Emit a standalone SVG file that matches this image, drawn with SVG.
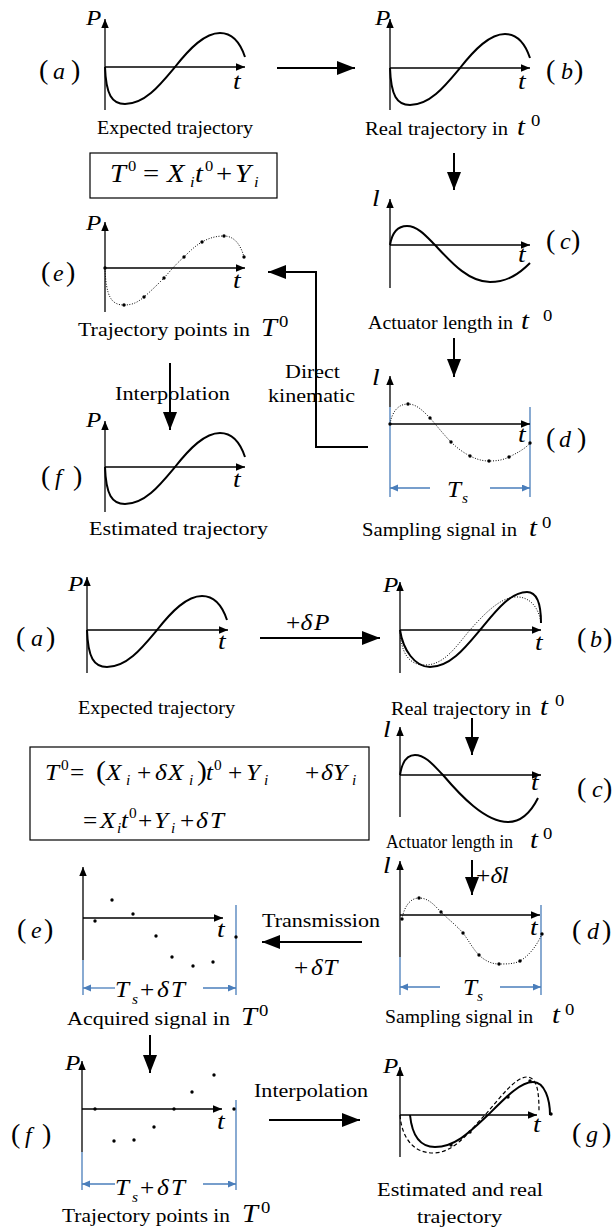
<svg xmlns="http://www.w3.org/2000/svg" xmlns:xlink="http://www.w3.org/1999/xlink" width="613" height="1227" viewBox="0 0 613 1227">
<style>
text{font-family:"Liberation Serif","Times New Roman",serif;fill:#000}
.cap{font-size:18px}
.cap2{font-size:19px}
.m{font-style:italic;font-size:24px}
.me{font-style:italic;font-size:23px}
.mp{font-style:italic;font-size:20px}
.mc{font-style:italic;font-size:26px}
.nc{font-size:17px}
.r{font-style:normal}
.sub{font-size:14px}
.pr{font-size:28px;font-style:normal}
.lt{font-size:24px;font-style:italic}
.ax{stroke:#000;stroke-width:1.3;fill:none;marker-end:url(#ah)}
.cv{stroke:#000;stroke-width:2;fill:none}
.dt{stroke:#000;stroke-width:1;stroke-dasharray:1 1.6;fill:none}
.ds{stroke:#000;stroke-width:1.2;stroke-dasharray:4 2.5;fill:none}
.bl{stroke:#4a7ebb;stroke-width:1.3;fill:none}
.bla{stroke:#4a7ebb;stroke-width:1.3;fill:none;marker-end:url(#bh)}
.con{stroke:#000;stroke-width:2;fill:none;marker-end:url(#big)}
.box{fill:none;stroke:#000;stroke-width:1.2}
.dot{fill:#000}
</style>
<defs>
<marker id="big" markerUnits="userSpaceOnUse" markerWidth="19" markerHeight="15" refX="18" refY="7" orient="auto"><path d="M0,0 L18,7 L0,14 z" fill="#000"/></marker>
<marker id="ah" markerUnits="userSpaceOnUse" markerWidth="10" markerHeight="8" refX="9" refY="3.75" orient="auto"><path d="M0,0 L9,3.75 L0,7.5 z" fill="#000"/></marker>
<marker id="bh" markerUnits="userSpaceOnUse" markerWidth="9" markerHeight="8" refX="8" refY="3.5" orient="auto"><path d="M0,0 L8,3.5 L0,7 z" fill="#4a7ebb"/></marker>
<path id="curveP" d="M0,0 C1,28 7,37 20,37 C40,37 55,18 70,0 C85,-19 100,-34 115,-34 C127,-34 135,-25 140,-10"/>
<path id="curveL" d="M0,0 C2,-12 8,-19 17,-19 C28,-19 37,-8 45,0 C60,16 78,37 100,37 C118,37 130,28 140,18"/>
</defs>

<g id="connectors">
<path class="con" d="M277,68 L355,68"/>
<path class="con" d="M454,153 L454,190"/>
<path class="con" d="M454,338 L454,377"/>
<path class="con" d="M368,447 L316,447 L316,272 L268,272"/>
<path class="con" d="M170,363 L170,430"/>
<path class="con" d="M260,638 L380,638"/>
<path class="con" d="M472,718 L472,755"/>
<path class="con" d="M472,860 L472,895"/>
<path class="con" d="M362,942 L262,942"/>
<path class="con" d="M150,1035 L150,1073"/>
<path class="con" d="M269,1120 L360,1120"/>
<text class="cap2" x="115" y="400" textLength="115" lengthAdjust="spacingAndGlyphs">Interpolation</text>
<text class="cap2" x="285" y="378" textLength="55" lengthAdjust="spacingAndGlyphs">Direct</text>
<text class="cap2" x="268" y="402" textLength="87" lengthAdjust="spacingAndGlyphs">kinematic</text>
<text class="me" transform="translate(286,630) scale(1.1,1)"><tspan class="r">+</tspan><tspan x="13.2">δ</tspan><tspan x="25.5">P</tspan></text>
<text class="me" transform="translate(476,883) scale(1.1,1)"><tspan class="r">+</tspan><tspan x="13.2">δ</tspan><tspan x="23.2">l</tspan></text>
<text class="cap2" x="262" y="927" textLength="118" lengthAdjust="spacingAndGlyphs">Transmission</text>
<text class="me" transform="translate(294,975) scale(1.1,1)"><tspan class="r">+</tspan><tspan x="15.5">δ</tspan><tspan x="26.5">T</tspan></text>
<text class="cap2" x="254" y="1097" textLength="114" lengthAdjust="spacingAndGlyphs">Interpolation</text>
</g>

<g id="top-a">
<path class="ax" d="M105,110 L105,19"/>
<path class="ax" d="M105,67 L245,67"/>
<use xlink:href="#curveP" class="cv" transform="translate(105,67)"/>
<text class="mp" transform="translate(86,25) scale(1.25,1)">P</text>
<text class="m" transform="translate(233,89) scale(1.15,1)">t</text>
<text y="79"><tspan class="pr" x="39">(</tspan><tspan class="lt" x="53">a</tspan><tspan class="pr" x="71">)</tspan></text>
<text class="cap" x="97" y="134" textLength="156" lengthAdjust="spacingAndGlyphs">Expected trajectory</text>
</g>

<g id="top-eq">
<rect class="box" x="90" y="153" width="187" height="45"/>
<text style="font-size:26px" transform="translate(0,182) scale(1.1,1)"><tspan x="100" font-style="italic">T</tspan><tspan x="116.4" y="-11" font-size="15">0</tspan><tspan x="130" y="0">=</tspan><tspan x="151.8" font-style="italic">X</tspan><tspan x="172.7" y="5" font-size="15" font-style="italic">i</tspan><tspan x="177.3" y="0" font-style="italic">t</tspan><tspan x="186.4" y="-11" font-size="15">0</tspan><tspan x="196.4" y="0">+</tspan><tspan x="213.6" font-style="italic">Y</tspan><tspan x="230.9" y="5" font-size="15" font-style="italic">i</tspan></text>
</g>

<g id="top-b">
<path class="ax" d="M390,110 L390,19"/>
<path class="ax" d="M390,68 L530,68"/>
<use xlink:href="#curveP" class="cv" transform="translate(390,68)"/>
<text class="mp" transform="translate(375,25) scale(1.25,1)">P</text>
<text class="m" transform="translate(518,89) scale(1.15,1)">t</text>
<text y="79"><tspan class="pr" x="546">(</tspan><tspan class="lt" x="561">b</tspan><tspan class="pr" x="574">)</tspan></text>
<text class="cap" x="365" y="135" textLength="143" lengthAdjust="spacingAndGlyphs">Real trajectory in</text>
<text class="mc" transform="translate(517,135) scale(1.1,1)">t</text>
<text class="nc" transform="translate(531,126) scale(1.1,1)">0</text>
</g>

<g id="top-c">
<path class="ax" d="M390,288 L390,199"/>
<path class="ax" d="M390,245 L530,245"/>
<use xlink:href="#curveL" class="cv" transform="translate(390,245)"/>
<text class="m" transform="translate(372,206) scale(1.15,1)">l</text>
<text class="m" transform="translate(518,262) scale(1.15,1)">t</text>
<text y="249"><tspan class="pr" x="546">(</tspan><tspan class="lt" x="560">c</tspan><tspan class="pr" x="571">)</tspan></text>
<text class="cap" x="368" y="329" textLength="145" lengthAdjust="spacingAndGlyphs">Actuator length in</text>
<text class="mc" transform="translate(521,329) scale(1.1,1)">t</text>
<text class="nc" transform="translate(543,321) scale(1.1,1)">0</text>
</g>

<g id="top-e">
<path class="ax" d="M105,312 L105,222"/>
<path class="ax" d="M105,268 L245,268"/>
<path class="dt" transform="translate(105,268)" d="M0,0 C1,28 6,37 19,37 C28,37 33,34 39,29 C46,23 52,17 59,10 C66,2 72,-5 79,-11 C85,-17 90,-22 97,-26 C104,-30 111,-32 119,-32 C130,-32 136,-22 139,-11"/>
<g class="dot"><circle cx="105" cy="268" r="1.7"/><circle cx="124" cy="305" r="1.7"/><circle cx="144" cy="297" r="1.7"/><circle cx="164" cy="278" r="1.7"/><circle cx="184" cy="257" r="1.7"/><circle cx="202" cy="242" r="1.7"/><circle cx="224" cy="236" r="1.7"/><circle cx="244" cy="257" r="1.7"/></g>
<text class="mp" transform="translate(86,230) scale(1.25,1)">P</text>
<text class="m" transform="translate(233,288) scale(1.15,1)">t</text>
<text y="281"><tspan class="pr" x="41">(</tspan><tspan class="lt" x="53">e</tspan><tspan class="pr" x="66">)</tspan></text>
<text class="cap2" x="78" y="336" textLength="172" lengthAdjust="spacingAndGlyphs">Trajectory points in</text>
<text class="mc" transform="translate(261,336) scale(1.1,1)">T</text>
<text class="nc" transform="translate(279,327) scale(1.1,1)">0</text>
</g>

<g id="top-f">
<path class="ax" d="M105,512 L105,421"/>
<path class="ax" d="M105,467 L245,467"/>
<use xlink:href="#curveP" class="cv" transform="translate(105,467)"/>
<text class="mp" transform="translate(86,427) scale(1.25,1)">P</text>
<text class="m" transform="translate(233,487) scale(1.15,1)">t</text>
<text y="485"><tspan class="pr" x="41">(</tspan><tspan class="lt" x="55">f</tspan><tspan class="pr" x="73">)</tspan></text>
<text class="cap2" x="89" y="535" textLength="179" lengthAdjust="spacingAndGlyphs">Estimated trajectory</text>
</g>

<g id="top-d">
<path class="ax" d="M390,407 L390,376"/>
<path class="bl" d="M390,407 L390,497 M530,407 L530,497"/>
<path class="ax" d="M390,424 L530,424"/>
<path class="bla" d="M430,488 L390,488"/>
<path class="bla" d="M490,488 L530,488"/>
<path class="dt" transform="translate(390,424)" d="M0,0 C2,-12 8,-20 18,-20 C27,-20 34,-12 40,-6 C47,2 54,11 61,18 C67,24 74,29 80,32 C86,35 92,37 99,37 C107,37 113,36 119,33 C127,29 135,25 140,19"/>
<g class="dot"><circle cx="390" cy="424" r="1.7"/><circle cx="408" cy="404" r="1.7"/><circle cx="430" cy="418" r="1.7"/><circle cx="451" cy="442" r="1.7"/><circle cx="470" cy="456" r="1.7"/><circle cx="489" cy="461" r="1.7"/><circle cx="509" cy="457" r="1.7"/><circle cx="530" cy="443" r="1.7"/></g>
<text class="m" transform="translate(372,385) scale(1.15,1)">l</text>
<text class="m" transform="translate(518,442) scale(1.15,1)">t</text>
<text y="447"><tspan class="pr" x="546">(</tspan><tspan class="lt" x="559">d</tspan><tspan class="pr" x="577">)</tspan></text>
<text class="me" transform="translate(447,497) scale(1.1,1)">T<tspan class="sub" x="13.6" y="6">s</tspan></text>
<text class="cap" x="362" y="536" textLength="155" lengthAdjust="spacingAndGlyphs">Sampling signal in</text>
<text class="mc" transform="translate(529,536) scale(1.1,1)">t</text>
<text class="nc" transform="translate(542,528) scale(1.1,1)">0</text>
</g>

<g id="bot-a">
<path class="ax" d="M87,673 L87,577"/>
<path class="ax" d="M87,630 L228,630"/>
<use xlink:href="#curveP" class="cv" transform="translate(87,630)"/>
<text class="mp" transform="translate(68,591) scale(1.25,1)">P</text>
<text class="m" transform="translate(218,649) scale(1.15,1)">t</text>
<text y="646"><tspan class="pr" x="16">(</tspan><tspan class="lt" x="31">a</tspan><tspan class="pr" x="46">)</tspan></text>
<text class="cap" x="78" y="714" textLength="157" lengthAdjust="spacingAndGlyphs">Expected trajectory</text>
</g>

<g id="bot-b">
<path class="ax" d="M400,673 L400,582"/>
<path class="ax" d="M400,630 L541,630"/>
<path class="dt" transform="translate(400,630)" d="M0,0 C1,22 8,35 25,35 C45,35 57,15 70,0 C85,-17 100,-32 115,-33 C130,-34 139,-22 141,-7"/>
<path class="cv" transform="translate(400,630)" d="M0,0 C3,20 15,37 30,37 C50,37 65,18 80,0 C95,-18 110,-38 127,-38 C136,-38 141,-28 141,-7"/>
<text class="mp" transform="translate(383,592) scale(1.25,1)">P</text>
<text class="m" transform="translate(535,650) scale(1.15,1)">t</text>
<text y="647"><tspan class="pr" x="577">(</tspan><tspan class="lt" x="590">b</tspan><tspan class="pr" x="603">)</tspan></text>
<text class="cap" x="391" y="715" textLength="140" lengthAdjust="spacingAndGlyphs">Real trajectory in</text>
<text class="mc" transform="translate(540,715) scale(1.1,1)">t</text>
<text class="nc" transform="translate(555,706) scale(1.1,1)">0</text>
</g>

<g id="bot-eq">
<rect class="box" x="30" y="747" width="339" height="93"/>
<text style="font-size:23px" transform="translate(0,780) scale(1.1,1)"><tspan x="40.9" font-style="italic">T</tspan><tspan x="55.5" y="-10" font-size="14">0</tspan><tspan x="63.6" y="0">=</tspan><tspan x="87.3" font-size="27">(</tspan><tspan x="96.4" font-style="italic">X</tspan><tspan x="114.5" y="5" font-size="14" font-style="italic">i</tspan><tspan x="124.5" y="0">+</tspan><tspan x="140.9" font-style="italic">δ</tspan><tspan x="152.7" font-style="italic">X</tspan><tspan x="171.8" y="5" font-size="14" font-style="italic">i</tspan><tspan x="179.1" y="0" font-size="27">)</tspan><tspan x="187.3" font-style="italic">t</tspan><tspan x="194.5" y="-10" font-size="14">0</tspan><tspan x="207.3" y="0">+</tspan><tspan x="223.6" font-style="italic">Y</tspan><tspan x="240" y="5" font-size="14" font-style="italic">i</tspan><tspan x="277.3" y="0">+</tspan><tspan x="291.8" font-style="italic">δ</tspan><tspan x="302.7" font-style="italic">Y</tspan><tspan x="320" y="5" font-size="14" font-style="italic">i</tspan></text>
<text style="font-size:23px" transform="translate(0,828) scale(1.1,1)"><tspan x="75.5">=</tspan><tspan x="90.9" font-style="italic">X</tspan><tspan x="106.4" y="5" font-size="14" font-style="italic">i</tspan><tspan x="110" y="0" font-style="italic">t</tspan><tspan x="117.3" y="-10" font-size="14">0</tspan><tspan x="125.5" y="0">+</tspan><tspan x="140" font-style="italic">Y</tspan><tspan x="155.5" y="5" font-size="14" font-style="italic">i</tspan><tspan x="163.6" y="0">+</tspan><tspan x="178.2" font-style="italic">δ</tspan><tspan x="190.9" font-style="italic">T</tspan></text>
</g>

<g id="bot-c">
<path class="ax" d="M400,817 L400,727"/>
<path class="ax" d="M400,775 L541,775"/>
<path class="cv" transform="translate(400,775)" d="M0,0 C2,-13 7,-20 15,-20 C26,-20 35,-8 43,0 C60,20 85,47 108,47 C122,47 132,35 138,23"/>
<text class="m" transform="translate(383,737) scale(1.15,1)">l</text>
<text class="m" transform="translate(531,790) scale(1.15,1)">t</text>
<text y="797"><tspan class="pr" x="577">(</tspan><tspan class="lt" x="592">c</tspan><tspan class="pr" x="603">)</tspan></text>
<text class="cap" x="386" y="848" textLength="127" lengthAdjust="spacingAndGlyphs">Actuator length in</text>
<text class="mc" transform="translate(530,848) scale(1.1,1)">t</text>
<text class="nc" transform="translate(543,839) scale(1.1,1)">0</text>
</g>

<g id="bot-d">
<path class="ax" d="M400,957 L400,861"/>
<path class="bl" d="M400,957 L400,995 M541,905 L541,995"/>
<path class="ax" d="M400,915 L540,915"/>
<path class="bla" d="M440,987 L400,987"/>
<path class="bla" d="M500,987 L541,987"/>
<path class="dt" transform="translate(400,915)" d="M2,4 C4,-8 10,-17 19,-17 C29,-17 35,-9 41,-3 C49,5 56,10 63,18 C69,26 73,34 79,40 C85,46 92,49 99,49 C107,49 114,49 120,46 C130,40 137,30 142,19"/>
<g class="dot"><circle cx="402" cy="919" r="1.7"/><circle cx="419" cy="898" r="1.7"/><circle cx="441" cy="912" r="1.7"/><circle cx="463" cy="933" r="1.7"/><circle cx="479" cy="955" r="1.7"/><circle cx="499" cy="964" r="1.7"/><circle cx="520" cy="961" r="1.7"/><circle cx="542" cy="934" r="1.7"/></g>
<text class="m" transform="translate(383,873) scale(1.15,1)">l</text>
<text class="m" transform="translate(530,935) scale(1.15,1)">t</text>
<text y="939"><tspan class="pr" x="572">(</tspan><tspan class="lt" x="587">d</tspan><tspan class="pr" x="602">)</tspan></text>
<text class="me" transform="translate(463,995) scale(1.1,1)">T<tspan class="sub" x="12.7" y="6">s</tspan></text>
<text class="cap" x="385" y="1023" textLength="148" lengthAdjust="spacingAndGlyphs">Sampling signal in</text>
<text class="mc" transform="translate(552,1023) scale(1.1,1)">t</text>
<text class="nc" transform="translate(565,1015) scale(1.1,1)">0</text>
</g>

<g id="bot-e">
<path class="ax" d="M83,960 L83,867"/>
<path class="bl" d="M83,960 L83,995 M236,905 L236,995"/>
<path class="ax" d="M83,918 L223,918"/>
<path class="bla" d="M115,988 L83,988"/>
<path class="bla" d="M203,988 L236,988"/>
<g class="dot"><circle cx="95" cy="921" r="1.7"/><circle cx="112" cy="900" r="1.7"/><circle cx="133" cy="914" r="1.7"/><circle cx="156" cy="936" r="1.7"/><circle cx="172" cy="957" r="1.7"/><circle cx="193" cy="966" r="1.7"/><circle cx="213" cy="962" r="1.7"/><circle cx="236" cy="937" r="1.7"/></g>
<text class="m" transform="translate(217,937) scale(1.15,1)">t</text>
<text y="938"><tspan class="pr" x="17">(</tspan><tspan class="lt" x="31">e</tspan><tspan class="pr" x="44">)</tspan></text>
<text class="me" transform="translate(0,997) scale(1.1,1)"><tspan x="104.5">T</tspan><tspan class="sub" x="120" y="7">s</tspan><tspan class="r" x="127.3" y="0">+</tspan><tspan x="142.7">δ</tspan><tspan x="155.5">T</tspan></text>
<text class="cap" x="67" y="1025" textLength="163" lengthAdjust="spacingAndGlyphs">Acquired signal in</text>
<text class="mc" transform="translate(241,1025) scale(1.1,1)">T</text>
<text class="nc" transform="translate(259,1016) scale(1.1,1)">0</text>
</g>

<g id="bot-f">
<path class="ax" d="M82,1152 L82,1061"/>
<path class="bl" d="M82,1152 L82,1190 M236,1100 L236,1190"/>
<path class="ax" d="M82,1109 L222,1109"/>
<path class="bla" d="M115,1184 L82,1184"/>
<path class="bla" d="M203,1184 L236,1184"/>
<g class="dot"><circle cx="95" cy="1109" r="1.7"/><circle cx="114" cy="1141" r="1.7"/><circle cx="134" cy="1140" r="1.7"/><circle cx="154" cy="1127" r="1.7"/><circle cx="174" cy="1109" r="1.7"/><circle cx="192" cy="1092" r="1.7"/><circle cx="214" cy="1075" r="1.7"/><circle cx="234" cy="1109" r="1.7"/></g>
<text class="mp" transform="translate(65,1070) scale(1.25,1)">P</text>
<text class="m" transform="translate(217,1129) scale(1.15,1)">t</text>
<text y="1143"><tspan class="pr" x="11">(</tspan><tspan class="lt" x="25">f</tspan><tspan class="pr" x="42">)</tspan></text>
<text class="me" transform="translate(0,1195) scale(1.1,1)"><tspan x="104.5">T</tspan><tspan class="sub" x="120" y="7">s</tspan><tspan class="r" x="127.3" y="0">+</tspan><tspan x="142.7">δ</tspan><tspan x="155.5">T</tspan></text>
<text class="cap" x="62" y="1222" textLength="168" lengthAdjust="spacingAndGlyphs">Trajectory points in</text>
<text class="mc" transform="translate(242,1222) scale(1.1,1)">T</text>
<text class="nc" transform="translate(261,1213) scale(1.1,1)">0</text>
</g>

<g id="bot-g">
<path class="ax" d="M400,1157 L400,1067"/>
<path class="ax" d="M400,1115 L537,1115"/>
<path class="ds" d="M400,1115 C402,1140 415,1153 433,1153 C455,1153 470,1130 485,1115 C500,1098 515,1077 527,1077 C538,1077 539,1095 539,1112"/>
<path class="cv" d="M410,1115 C412,1135 420,1147 435,1147 C455,1147 470,1132 488,1115 C505,1098 520,1082 533,1082 C545,1082 550,1100 550,1115"/>
<g class="dot"><circle cx="451" cy="1145" r="1.7"/><circle cx="470" cy="1132" r="1.7"/><circle cx="508" cy="1097" r="1.7"/><circle cx="530" cy="1081" r="1.7"/><circle cx="551" cy="1114" r="1.7"/></g>
<text class="mp" transform="translate(383,1073) scale(1.25,1)">P</text>
<text class="m" transform="translate(533,1132) scale(1.15,1)">t</text>
<text y="1142"><tspan class="pr" x="572">(</tspan><tspan class="lt" x="586">g</tspan><tspan class="pr" x="602">)</tspan></text>
<text class="cap" x="377" y="1196" textLength="166" lengthAdjust="spacingAndGlyphs">Estimated and real</text>
<text class="cap" x="417" y="1223" textLength="85" lengthAdjust="spacingAndGlyphs">trajectory</text>
</g>
</svg>
